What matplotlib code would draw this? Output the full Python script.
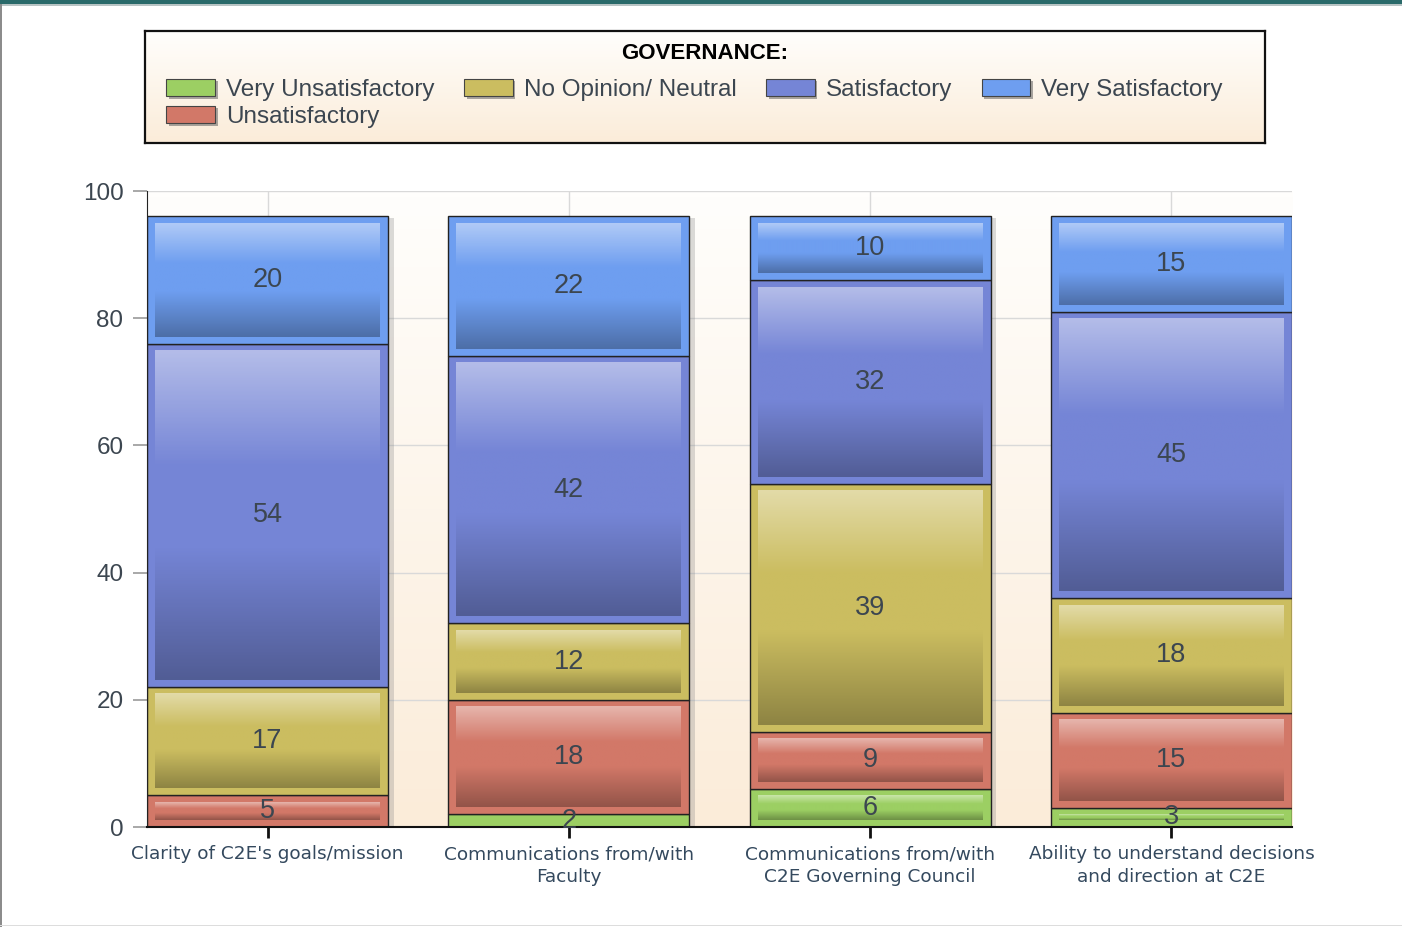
import matplotlib.pyplot as plt
import numpy as np
from matplotlib.colors import to_rgb, LinearSegmentedColormap
from matplotlib.patches import Patch, Rectangle
import matplotlib.patheffects as pe

# survey data (percent)
categories = ["Clarity of C2E's goals/mission",
              "Communications from/with\nFaculty",
              "Communications from/with\nC2E Governing Council",
              "Ability to understand decisions\nand direction at C2E"]
series_names = ["Very Unsatisfactory", "Unsatisfactory", "No Opinion/ Neutral",
                "Satisfactory", "Very Satisfactory"]
very_unsat = [0, 2, 6, 3]
unsat = [5, 18, 9, 15]
neutral = [17, 12, 39, 18]
sat = [54, 42, 32, 45]
very_sat = [20, 22, 10, 15]
yticks = [0, 20, 40, 60, 80, 100]

colors = ['#9ccf63', '#d27868', '#cbbd60', '#7585d6', '#6e9ef0']
series = [very_unsat, unsat, neutral, sat, very_sat]

LABEL_FONT = ['Liberation Sans', 'DejaVu Sans']
TXT = '#3c4650'


def mix(c, other, t):
    c = np.array(to_rgb(c))
    o = np.array(to_rgb(other))
    return tuple(c * (1 - t) + o * t)


def glass_cmap(c):
    light = mix(c, 'white', 0.45)
    dark = mix(c, 'black', 0.3)
    return LinearSegmentedColormap.from_list(
        'g', [(0, light), (0.35, c), (0.6, c), (1, dark)])


W, H = 1402, 927
fig = plt.figure(figsize=(W / 100, H / 100), dpi=100)
fig.patch.set_facecolor('white')

# frame decorations of the screenshot
fig.add_artist(Rectangle((0, 1 - 4 / H), 1, 4 / H, transform=fig.transFigure,
                         color='#2a6a6a', lw=0))
fig.add_artist(Rectangle((0, 1 - 6 / H), 1, 2 / H, transform=fig.transFigure,
                         color='#b8c4c4', lw=0))
fig.add_artist(Rectangle((0, 0), 2 / W, 1 - 4 / H, transform=fig.transFigure,
                         color='#8c8c8c', lw=0))
fig.add_artist(Rectangle((0, 1 / H), 1, 1.5 / H, transform=fig.transFigure,
                         color='#dddddd', lw=0))

# ---- legend box ----
lax = fig.add_axes([145 / W, 1 - 143 / H, 1120 / W, 112 / H])
grad = np.linspace(0, 1, 100)[:, None]
bg = LinearSegmentedColormap.from_list('bg', ['#fffefc', '#fbecd9'])
lax.imshow(grad, cmap=bg, extent=(0, 1, 0, 1), aspect='auto', zorder=0)
lax.set_xlim(0, 1)
lax.set_ylim(0, 1)
lax.set_xticks([])
lax.set_yticks([])
for s in lax.spines.values():
    s.set_linewidth(1.6)
    s.set_color('#111111')
lax.text(0.5, 0.80, "GOVERNANCE:", ha='center', va='center', fontsize=16,
         fontweight='bold', family=LABEL_FONT, color='black')

shadow = [pe.SimplePatchShadow(offset=(2, -2), shadow_rgbFace='#555555', alpha=0.5),
          pe.Normal()]
handles = [Patch(facecolor=c, edgecolor='#444444', linewidth=0.8, path_effects=shadow)
           for c in colors]
leg = lax.legend(handles, series_names,
                 ncol=4, loc='upper left', bbox_to_anchor=(0.019, 0.575),
                 frameon=False, borderpad=0, borderaxespad=0,
                 prop={'family': LABEL_FONT, 'size': 17.5},
                 handlelength=2.0, handleheight=0.72, handletextpad=0.45,
                 columnspacing=1.22, labelspacing=0.2)
for t in leg.get_texts():
    t.set_color(TXT)

# ---- chart ----
ax = fig.add_axes([147 / W, 1 - 827 / H, 1145 / W, 636 / H])
ax.imshow(grad, cmap=bg, extent=(0, 1, 0, 1), transform=ax.transAxes,
          aspect='auto', zorder=0)

x = np.arange(len(categories))
width = 0.8
totals = np.sum(series, axis=0)

# drop shadow behind the stacks
ax.bar(x, totals, width, color='#f5ede4', zorder=1.5,
       path_effects=[pe.SimplePatchShadow(offset=(4, -1), shadow_rgbFace='#888888',
                                          alpha=0.3), pe.Normal()])

bottom = np.zeros(len(categories))
xpad = 0.027
ypad = 1.1
for vals, c in zip(series, colors):
    vals = np.array(vals, dtype=float)
    bars = ax.bar(x, vals, width, bottom=bottom, color=c, edgecolor='#222222',
                  linewidth=1.0, zorder=2)
    cm = glass_cmap(c)
    for rect in bars:
        h = rect.get_height()
        if h <= 0:
            continue
        x0 = rect.get_x() + xpad
        x1 = rect.get_x() + rect.get_width() - xpad
        y0 = rect.get_y() + ypad
        y1 = rect.get_y() + h - ypad
        if y1 - y0 > 0.3:
            ax.imshow(grad, cmap=cm, extent=(x0, x1, y0, y1), aspect='auto',
                      zorder=2.5, interpolation='bilinear')
    labels = [f"{int(v)}" if v > 0 else "" for v in vals]
    lbl = ax.bar_label(bars, labels=labels, label_type='center', fontsize=19.5,
                       color=TXT, family=LABEL_FONT)
    for t in lbl:
        t.set_zorder(4)
    bottom += vals

ax.set_xlim(-0.4, 3.4)
ax.set_ylim(0, 100)
ax.set_aspect('auto')
ax.set_xticks(x)
ax.set_xticklabels(categories, fontsize=13.3, color='#34495e',
                   family='DejaVu Sans', linespacing=1.35)
ax.set_yticks(yticks)
ax.set_yticklabels([str(v) for v in yticks], fontsize=17.5, color=TXT,
                   family=LABEL_FONT)
ax.tick_params(axis='y', length=10, width=1.2, color='#999999', pad=7)
ax.tick_params(axis='x', length=8, width=2, color='#111111', pad=5)
ax.grid(True, color='#d9d9d9', linewidth=1)
ax.set_axisbelow(True)
for side in ['top', 'right']:
    ax.spines[side].set_visible(False)
ax.spines['left'].set_color('#222222')
ax.spines['bottom'].set_color('#111111')
ax.spines['bottom'].set_linewidth(1.5)

fig.savefig('out.png', dpi=100)
